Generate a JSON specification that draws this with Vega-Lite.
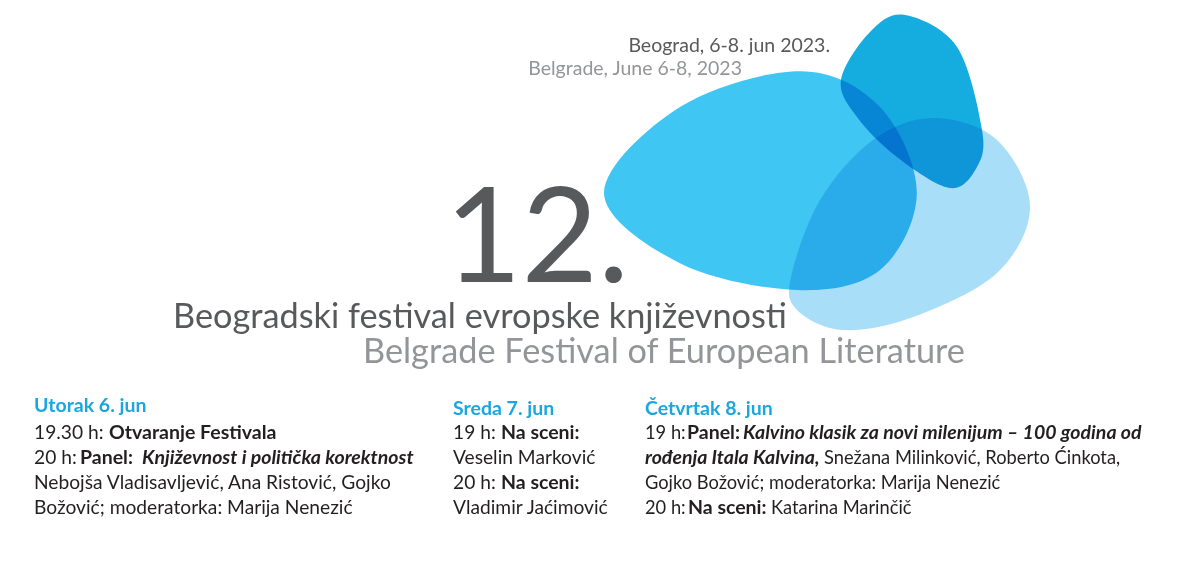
{
  "$schema": "https://vega.github.io/schema/vega-lite/v6.json",
  "width": 1200,
  "height": 570,
  "autosize": {"type": "fit", "contains": "padding"},
  "padding": 0,
  "background": "white",
  "datasets": {
    "blobs": [
      {"blob": "left", "x": 760, "y": 180},
      {"blob": "top", "x": 912, "y": 100},
      {"blob": "right", "x": 910, "y": 225}
    ],
    "texts": [
      {"role": "number", "text": "12.", "x": 445, "y": 282},
      {"role": "title-sr", "text": "Beogradski festival evropske književnosti", "x": 173, "y": 328},
      {"role": "title-en", "text": "Belgrade Festival of European Literature", "x": 363, "y": 363},
      {"role": "date-sr", "text": "Beograd, 6-8. jun 2023.", "x": 830, "y": 52},
      {"role": "date-en", "text": "Belgrade, June 6-8, 2023", "x": 742, "y": 75},

      {"role": "day", "text": "Utorak 6. jun", "x": 34, "y": 412},
      {"role": "regular", "text": "19.30 h:", "x": 34, "y": 439},
      {"role": "bold", "text": "Otvaranje Festivala", "x": 109, "y": 439},
      {"role": "regular", "text": "20 h:", "x": 34, "y": 464},
      {"role": "bold", "text": "Panel:", "x": 80, "y": 464},
      {"role": "bolditalic", "text": "Književnost i politička korektnost", "x": 142, "y": 464},
      {"role": "regular", "text": "Nebojša Vladisavljević, Ana Ristović, Gojko", "x": 34, "y": 489},
      {"role": "regular", "text": "Božović; moderatorka: Marija Nenezić", "x": 34, "y": 514},

      {"role": "day", "text": "Sreda 7. jun", "x": 453, "y": 415},
      {"role": "regular", "text": "19 h:", "x": 453, "y": 439},
      {"role": "bold", "text": "Na sceni:", "x": 501, "y": 439},
      {"role": "regular", "text": "Veselin Marković", "x": 453, "y": 464},
      {"role": "regular", "text": "20 h:", "x": 453, "y": 489},
      {"role": "bold", "text": "Na sceni:", "x": 501, "y": 489},
      {"role": "regular", "text": "Vladimir Jaćimović", "x": 453, "y": 514},

      {"role": "day", "text": "Četvrtak 8. jun", "x": 645, "y": 415},
      {"role": "regular-narrow", "text": "19 h:", "x": 645, "y": 439},
      {"role": "bold", "text": "Panel:", "x": 687, "y": 439},
      {"role": "bolditalic", "text": "Kalvino klasik za novi milenijum – 100 godina od", "x": 743, "y": 439},
      {"role": "bolditalic", "text": "rođenja Itala Kalvina,", "x": 645, "y": 464},
      {"role": "regular-narrow", "text": "Snežana Milinković, Roberto Ćinkota,", "x": 824, "y": 464},
      {"role": "regular-narrow", "text": "Gojko Božović; moderatorka: Marija Nenezić", "x": 645, "y": 489},
      {"role": "regular-narrow", "text": "20 h:", "x": 645, "y": 514},
      {"role": "bold", "text": "Na sceni:", "x": 688, "y": 514},
      {"role": "regular-narrow", "text": "Katarina Marinčič", "x": 771, "y": 514}
    ]
  },
  "encoding": {
    "x": {"field": "x", "type": "quantitative", "scale": {"domain": [0, 1200], "nice": false, "zero": false}, "axis": null},
    "y": {"field": "y", "type": "quantitative", "scale": {"domain": [0, 570], "nice": false, "zero": false, "reverse": true}, "axis": null}
  },
  "layer": [
    {
      "data": {"name": "blobs"},
      "transform": [{"filter": "datum.blob === 'right'"}],
      "mark": {
        "type": "point", "filled": true, "opacity": 1, "blend": "multiply", "color": "#a9def8", "size": 62500,
        "shape": "M0.184,-0.856C0.349,-0.856,0.567,-0.799,0.696,-0.68C0.825,-0.561,0.96,-0.321,0.96,-0.144C0.96,0.033,0.852,0.237,0.696,0.384C0.54,0.531,0.229,0.66,0.024,0.736C-0.181,0.812,-0.381,0.849,-0.536,0.84C-0.691,0.831,-0.835,0.751,-0.904,0.68C-0.973,0.609,-0.983,0.563,-0.952,0.416C-0.921,0.269,-0.829,-0.017,-0.72,-0.2C-0.611,-0.383,-0.447,-0.571,-0.296,-0.68C-0.145,-0.789,0.019,-0.856,0.184,-0.856Z"
      }
    },
    {
      "data": {"name": "blobs"},
      "transform": [{"filter": "datum.blob === 'left'"}],
      "mark": {
        "type": "point", "filled": true, "opacity": 1, "blend": "multiply", "color": "#3fc6f2", "size": 102400,
        "shape": "M-0.975,0.08C-0.975,-0.083,-0.704,-0.329,-0.5,-0.456C-0.296,-0.583,0.042,-0.68,0.25,-0.68C0.458,-0.68,0.628,-0.583,0.75,-0.456C0.872,-0.329,0.98,-0.09,0.98,0.08C0.98,0.25,0.875,0.4615,0.75,0.5625C0.625,0.6635,0.438,0.695,0.23,0.6875C0.022,0.68,-0.299,0.621,-0.5,0.52C-0.701,0.419,-0.975,0.243,-0.975,0.08Z"
      }
    },
    {
      "data": {"name": "blobs"},
      "transform": [{"filter": "datum.blob === 'top'"}],
      "mark": {
        "type": "point", "filled": true, "opacity": 1, "blend": "multiply", "color": "#15ace0", "size": 32400,
        "shape": "M-0.078,-0.944C0.083,-0.916,0.357,-0.803,0.5,-0.59C0.643,-0.377,0.741,0.111,0.778,0.333C0.815,0.555,0.781,0.637,0.722,0.744C0.663,0.852,0.57,0.997,0.422,0.978C0.274,0.96,0.005,0.765,-0.167,0.633C-0.339,0.502,-0.507,0.332,-0.611,0.189C-0.715,0.047,-0.813,-0.065,-0.789,-0.222C-0.765,-0.38,-0.586,-0.636,-0.467,-0.756C-0.349,-0.876,-0.239,-0.972,-0.078,-0.944Z"
      }
    },
    {
      "data": {"name": "texts"},
      "transform": [{"filter": "datum.role === 'number'"}],
      "mark": {"type": "text", "align": "left", "baseline": "alphabetic", "font": "Lato", "fontSize": 132, "color": "#58595b"},
      "encoding": {"text": {"field": "text"}}
    },
    {
      "data": {"name": "texts"},
      "transform": [{"filter": "datum.role === 'title-sr'"}],
      "mark": {"type": "text", "align": "left", "baseline": "alphabetic", "font": "Lato", "fontSize": 34.3, "color": "#58595b"},
      "encoding": {"text": {"field": "text"}}
    },
    {
      "data": {"name": "texts"},
      "transform": [{"filter": "datum.role === 'title-en'"}],
      "mark": {"type": "text", "align": "left", "baseline": "alphabetic", "font": "Lato", "fontSize": 34.3, "color": "#939598"},
      "encoding": {"text": {"field": "text"}}
    },
    {
      "data": {"name": "texts"},
      "transform": [{"filter": "datum.role === 'date-sr'"}],
      "mark": {"type": "text", "align": "right", "baseline": "alphabetic", "font": "Lato", "fontSize": 19.5, "color": "#58595b"},
      "encoding": {"text": {"field": "text"}}
    },
    {
      "data": {"name": "texts"},
      "transform": [{"filter": "datum.role === 'date-en'"}],
      "mark": {"type": "text", "align": "right", "baseline": "alphabetic", "font": "Lato", "fontSize": 19.5, "color": "#939598"},
      "encoding": {"text": {"field": "text"}}
    },
    {
      "data": {"name": "texts"},
      "transform": [{"filter": "datum.role === 'day'"}],
      "mark": {"type": "text", "align": "left", "baseline": "alphabetic", "font": "Lato", "fontWeight": "bold", "fontSize": 19.5, "color": "#1ba6df"},
      "encoding": {"text": {"field": "text"}}
    },
    {
      "data": {"name": "texts"},
      "transform": [{"filter": "datum.role === 'regular'"}],
      "mark": {"type": "text", "align": "left", "baseline": "alphabetic", "font": "Lato", "fontSize": 19.2, "color": "#231f20"},
      "encoding": {"text": {"field": "text"}}
    },
    {
      "data": {"name": "texts"},
      "transform": [{"filter": "datum.role === 'regular-narrow'"}],
      "mark": {"type": "text", "align": "left", "baseline": "alphabetic", "font": "Lato", "fontSize": 18.3, "color": "#231f20"},
      "encoding": {"text": {"field": "text"}}
    },
    {
      "data": {"name": "texts"},
      "transform": [{"filter": "datum.role === 'bold'"}],
      "mark": {"type": "text", "align": "left", "baseline": "alphabetic", "font": "Lato", "fontWeight": "bold", "fontSize": 19.5, "color": "#231f20"},
      "encoding": {"text": {"field": "text"}}
    },
    {
      "data": {"name": "texts"},
      "transform": [{"filter": "datum.role === 'bolditalic'"}],
      "mark": {"type": "text", "align": "left", "baseline": "alphabetic", "font": "Lato", "fontWeight": "bold", "fontStyle": "italic", "fontSize": 19.5, "color": "#231f20"},
      "encoding": {"text": {"field": "text"}}
    }
  ],
  "config": {
    "view": {"stroke": null}
  }
}
